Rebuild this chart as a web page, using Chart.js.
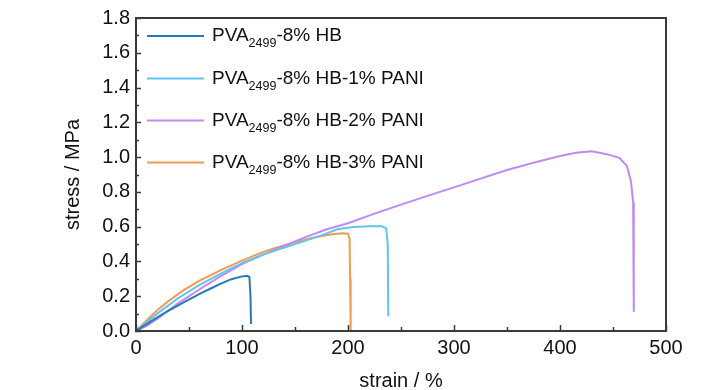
<!DOCTYPE html>
<html>
<head>
<meta charset="utf-8">
<script src="https://cdn.jsdelivr.net/npm/chart.js@4.4.1/dist/chart.umd.min.js"></script>
<style>
  html, body { margin: 0; padding: 0; background: #ffffff; }
  #wrap { width: 728px; height: 390px; position: relative; }
</style>
</head>
<body>
<div id="wrap"><canvas id="c" width="728" height="390"></canvas></div>
<script>
// ---- data ----
const strainHB   = [0, 10, 20, 30, 45, 60, 70, 80, 90, 100, 105, 107, 108, 108.5];
const stressHB   = [0, 0.04, 0.078, 0.115, 0.165, 0.213, 0.243, 0.272, 0.298, 0.314, 0.317, 0.31, 0.2, 0.04];

const strainP1   = [0, 10, 20, 40, 60, 80, 100, 120, 140, 160, 175, 190, 205, 220, 232, 236, 237.5, 238];
const stressP1   = [0, 0.05, 0.1, 0.19, 0.265, 0.33, 0.39, 0.44, 0.48, 0.52, 0.55, 0.585, 0.598, 0.603, 0.603, 0.59, 0.5, 0.085];

const strainP2   = [0, 10, 20, 40, 60, 80, 100, 120, 140, 160, 180, 200, 225, 250, 275, 300, 325, 350, 375, 400, 415, 430, 444, 456, 463, 467, 469, 469.5, 469.7];
const stressP2   = [0, 0.03, 0.07, 0.16, 0.24, 0.315, 0.385, 0.44, 0.49, 0.54, 0.585, 0.62, 0.675, 0.727, 0.777, 0.826, 0.876, 0.926, 0.968, 1.006, 1.025, 1.034, 1.017, 0.996, 0.95, 0.86, 0.74, 0.4, 0.11];

const strainP3   = [0, 10, 20, 30, 45, 60, 80, 100, 120, 130, 150, 170, 185, 195, 200, 201.5, 202, 202.5];
const stressP3   = [0, 0.06, 0.12, 0.17, 0.235, 0.29, 0.35, 0.405, 0.455, 0.475, 0.51, 0.54, 0.556, 0.562, 0.56, 0.53, 0.3, 0.0];

const seriesPrefix = ['PVA', 'PVA', 'PVA', 'PVA'];
const seriesSub    = ['2499', '2499', '2499', '2499'];
const seriesSuffix = ['-8% HB', '-8% HB-1% PANI', '-8% HB-2% PANI', '-8% HB-3% PANI'];
const seriesColors = ['#2b78b8', '#62c3ee', '#c08af3', '#f19a52'];

const xTickValues = [0, 100, 200, 300, 400, 500];
const yTickValues = [0.0, 0.2, 0.4, 0.6, 0.8, 1.0, 1.2, 1.4, 1.6, 1.8];
const xTitle = 'strain / %';
const yTitle = 'stress / MPa';

// ---- build datasets ----
function pts(xs, ys) { return xs.map((x, i) => ({ x: x, y: ys[i] })); }
const allX = [strainHB, strainP1, strainP2, strainP3];
const allY = [stressHB, stressP1, stressP2, stressP3];
const datasets = allX.map((xs, i) => ({
  label: seriesPrefix[i] + seriesSub[i] + seriesSuffix[i],
  data: pts(xs, allY[i]),
  borderColor: seriesColors[i],
  backgroundColor: seriesColors[i],
  borderWidth: 2,
  pointRadius: 0,
  tension: 0,
  showLine: true,
  fill: false
}));

const FONT = "'Liberation Sans', Arial, sans-serif";
const AXIS = '#3a3a3a';

const framePlugin = {
  id: 'frame',
  afterDatasetsDraw(chart) {
    const { ctx, chartArea: a, scales } = chart;
    ctx.save();
    ctx.strokeStyle = AXIS;
    const xs = scales.x, ys = scales.y;
    ctx.lineWidth = 1.5;
    ctx.beginPath();
    for (let v = 0; v <= 500; v += 50) {
      const px = Math.round(xs.getPixelForValue(v)) + 0.5;
      const len = (v % 100 === 0) ? 6 : 4;
      ctx.moveTo(px, a.bottom);
      ctx.lineTo(px, a.bottom - len);
    }
    for (let k = 0; k <= 18; k++) {
      const v = k / 10;
      const py = Math.round(ys.getPixelForValue(v)) + 0.5;
      const len = (k % 2 === 0) ? 5 : 3;
      ctx.moveTo(a.left - 1, py);
      ctx.lineTo(a.left + len, py);
    }
    ctx.stroke();
    ctx.lineWidth = 2;
    ctx.strokeRect(a.left, a.top, a.right - a.left, a.bottom - a.top);
    ctx.restore();
  },
  afterDraw(chart) {
    const { ctx } = chart;
    ctx.save();
    const rowY = [36, 78.5, 120.5, 162.5];
    for (let i = 0; i < 4; i++) {
      const y = rowY[i];
      ctx.strokeStyle = seriesColors[i];
      ctx.lineWidth = 2;
      ctx.beginPath();
      ctx.moveTo(147, y);
      ctx.lineTo(204, y);
      ctx.stroke();
      ctx.fillStyle = '#111111';
      ctx.textBaseline = 'middle';
      ctx.textAlign = 'left';
      let x = 212;
      ctx.font = '19px ' + FONT;
      ctx.fillText(seriesPrefix[i], x, y);
      x += ctx.measureText(seriesPrefix[i]).width;
      ctx.font = '12.5px ' + FONT;
      ctx.fillText(seriesSub[i], x, y + 8);
      x += ctx.measureText(seriesSub[i]).width;
      ctx.font = '19px ' + FONT;
      ctx.fillText(seriesSuffix[i], x, y);
    }
    ctx.restore();
  }
};

new Chart(document.getElementById('c'), {
  type: 'scatter',
  data: { datasets: datasets },
  options: {
    responsive: false,
    animation: false,
    layout: { padding: { left: 0, right: 62, top: 12, bottom: 0 } },
    plugins: { legend: { display: false }, tooltip: { enabled: false } },
    scales: {
      x: {
        type: 'linear',
        min: 0, max: 500,
        afterBuildTicks(scale) { scale.ticks = xTickValues.map(v => ({ value: v })); },
        afterFit(scale) { scale.height = 59; },
        grid: { display: false, drawTicks: false },
        border: { display: false },
        ticks: {
          color: '#111111',
          padding: 5,
          maxRotation: 0,
          autoSkip: false,
          font: { family: FONT, size: 20 },
          callback: (v) => String(v)
        },
        title: {
          display: true, text: xTitle, color: '#111111',
          font: { family: FONT, size: 20, lineHeight: 1 },
          padding: { top: 0, bottom: -1 }
        }
      },
      y: {
        type: 'linear',
        min: 0, max: 1.8,
        afterBuildTicks(scale) { scale.ticks = yTickValues.map(v => ({ value: v })); },
        afterFit(scale) { scale.width = 136; },
        grid: { display: false, drawTicks: false },
        border: { display: false },
        ticks: {
          color: '#111111',
          padding: 6,
          autoSkip: false,
          font: { family: FONT, size: 20 },
          callback: (v) => Number(v).toFixed(1)
        },
        title: {
          display: true, text: yTitle, color: '#111111',
          font: { family: FONT, size: 20, lineHeight: 1 },
          padding: { top: 63, bottom: 0 }
        }
      }
    }
  },
  plugins: [framePlugin]
});
</script>
</body>
</html>
